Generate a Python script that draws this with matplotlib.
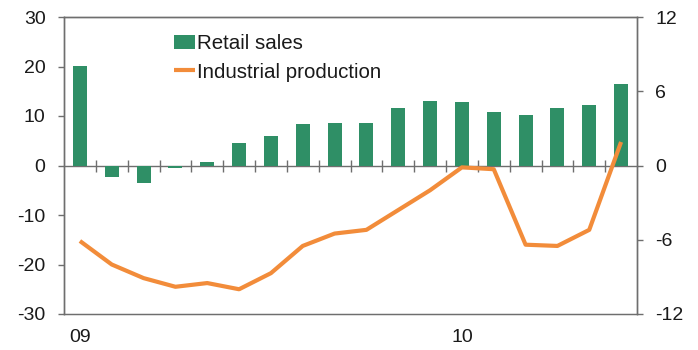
import numpy as np
import matplotlib.pyplot as plt

plt.rcParams['font.family'] = ['Liberation Sans', 'DejaVu Sans']
plt.rcParams['axes.unicode_minus'] = False

# monthly, Jan 2009 - Jun 2010
months = list(range(18))
retail_sales = [20.2, -2.3, -3.5, -0.5, 0.8, 4.5, 6.0, 8.3, 8.5, 8.6,
                11.7, 13.1, 12.8, 10.9, 10.3, 11.7, 12.2, 16.4]
industrial_production = [-6.1, -8.0, -9.1, -9.8, -9.5, -10.0, -8.7, -6.5, -5.5, -5.2,
                         -3.6, -2.0, -0.15, -0.3, -6.4, -6.5, -5.2, 1.9]
year_ticks = [0, 12]
year_labels = ['09', '10']

green = '#2f8f66'
orange = '#f28c3a'
grey = '#6e6e6e'
txt = '#1a1a1a'
fs = 14

fig = plt.figure(figsize=(6.98, 3.5), dpi=100)
ax = fig.add_axes([64 / 698, 36 / 350, 573 / 698, 297 / 350])
ax2 = ax.twinx()

bars = ax.bar(months, retail_sales, width=0.44, color=green, zorder=3)
line, = ax2.plot(months, industrial_production, color=orange, lw=3,
                 solid_capstyle='butt')

ax.set_xlim(-0.5, 17.5)
ax.set_ylim(-30, 30)
ax.set_yticks(np.arange(-30, 31, 10))
ax2.set_ylim(-12, 12)
ax2.set_yticks(np.arange(-12, 13, 6))

# zero line with month separators
ax.spines['bottom'].set_position(('data', 0))
ax.set_xticks(np.arange(0.5, 17, 1))
ax.tick_params(axis='x', direction='inout', length=8.5, width=1, color=grey,
               labelbottom=False)
ax.tick_params(axis='y', direction='out', length=4.3, width=1, color=grey,
               labelsize=fs, labelcolor=txt, pad=9)
ax2.tick_params(axis='y', direction='out', length=4.3, width=1, color=grey,
                labelsize=fs, labelcolor=txt, pad=9)

for a in (ax, ax2):
    for s in a.spines.values():
        s.set_color(grey)
        s.set_linewidth(1)

sec = ax.secondary_xaxis(0)
sec.set_xticks(year_ticks)
sec.set_xticklabels(year_labels)
sec.tick_params(length=0, pad=11, labelsize=fs, labelcolor=txt)
sec.spines['bottom'].set_color(grey)

leg = ax2.legend([bars, line], ['Retail sales', 'Industrial production'],
                 loc='upper left', bbox_to_anchor=(0.177, 0.969), frameon=False,
                 fontsize=14.8, handlelength=1.05, handletextpad=0.1, labelspacing=0.45,
                 borderaxespad=0)
for t in leg.get_texts():
    t.set_color(txt)

fig.savefig('out.png', dpi=100)
